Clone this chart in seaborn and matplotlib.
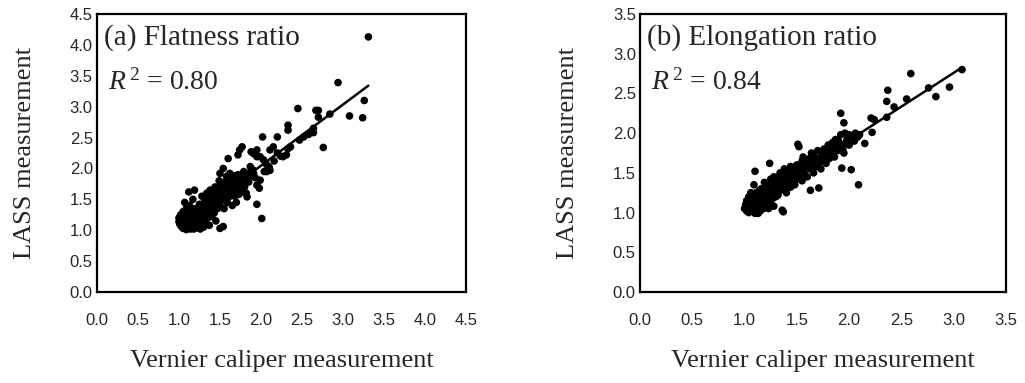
import matplotlib
matplotlib.use("Agg")
import matplotlib.pyplot as plt
import seaborn as sns
import pandas as pd

# ---------------- data ----------------
flat_x = [1.00,1.00,1.01,1.02,1.02,1.03,1.04,1.04,1.05,1.05,1.06,1.06,1.07,1.07,1.08,1.08,1.09,1.09,1.10,1.10,
          1.11,1.11,1.12,1.12,1.13,1.13,1.14,1.14,1.15,1.15,1.16,1.16,1.17,1.17,1.18,1.18,1.19,1.19,1.20,1.20,
          1.21,1.22,1.22,1.23,1.24,1.25,1.25,1.26,1.27,1.28,1.28,1.29,1.30,1.30,
          1.31,1.32,1.33,1.34,1.35,1.35,1.36,1.37,1.38,1.38,1.39,1.40,1.40,1.41,1.42,1.43,1.43,1.44,1.45,1.45,
          1.46,1.47,1.48,1.48,1.49,1.50,1.50,1.50,1.51,1.52,1.53,1.54,1.54,1.55,1.55,1.56,1.57,1.58,1.58,1.59,
          1.60,1.60,
          1.61,1.62,1.62,1.63,1.64,1.65,1.65,1.66,1.67,1.68,1.68,1.69,1.70,1.70,1.71,1.72,1.72,1.73,1.74,1.74,
          1.75,1.76,1.77,1.77,1.78,1.79,1.80,1.81,1.82,1.83,1.83,1.85,1.87,1.88,1.88,1.90,1.91,1.91,
          1.93,1.95,1.95,1.95,1.95,1.98,1.99,1.99,2.01,2.02,2.03,2.04,2.07,2.07,2.10,2.11,2.11,2.15,2.16,2.20,
          2.20,2.24,2.27,2.31,2.33,2.33,2.33,2.36,
          2.45,2.47,2.52,2.58,2.64,2.64,2.67,2.70,2.70,2.76,2.84,2.94,3.08,3.24,3.26,3.31]
flat_y = [1.14,1.20,1.10,1.25,1.16,1.06,1.20,1.12,1.30,1.03,1.18,1.10,1.24,1.45,1.08,1.15,1.35,1.01,1.22,1.12,
          1.05,1.28,1.18,1.62,1.10,1.40,1.25,1.02,1.15,1.32,1.08,1.20,1.50,1.12,1.02,1.26,1.18,1.65,1.08,1.35,
          1.22,1.04,1.14,1.30,1.20,1.10,1.42,1.02,1.25,1.15,1.55,1.35,1.05,1.22,
          1.45,1.12,1.30,1.60,1.20,1.40,1.52,1.08,1.32,1.65,1.45,1.22,1.55,1.38,1.62,1.28,1.48,1.70,1.40,1.15,
          1.58,1.35,1.65,1.50,1.80,1.42,1.92,1.03,1.60,1.72,1.50,1.06,2.00,1.62,1.35,1.78,1.55,1.87,1.68,1.45,
          1.62,2.16,
          1.75,1.92,1.55,1.68,1.82,1.40,1.62,1.75,1.88,1.55,1.70,1.80,1.45,1.65,1.78,1.90,2.22,1.58,1.72,2.30,
          1.68,1.85,2.35,1.62,1.75,1.95,1.70,1.82,1.60,1.54,1.92,1.78,2.03,2.27,1.88,1.98,1.92,2.24,
          1.85,1.42,1.73,2.30,2.19,1.68,2.19,1.81,1.19,2.51,2.14,1.95,2.06,1.95,2.02,1.97,2.30,2.35,2.12,2.51,
          2.25,2.20,2.19,2.22,2.32,2.62,2.70,2.35,
          2.97,2.46,2.51,2.55,2.65,2.58,2.94,2.94,2.83,2.34,2.88,3.39,2.85,2.82,3.10,4.13]

elon_x = [1.00,1.01,1.02,1.02,1.03,1.04,1.04,1.05,1.05,1.06,1.06,1.07,1.07,1.08,1.08,1.09,1.09,1.10,1.10,1.10,
          1.11,1.11,1.12,1.12,1.13,1.13,1.14,1.14,1.15,1.15,1.16,1.16,1.17,1.18,1.18,1.19,1.19,1.20,1.20,1.21,
          1.22,1.22,1.23,1.23,1.24,1.24,1.25,1.25,1.26,1.27,1.27,1.28,1.28,1.29,1.30,1.30,
          1.31,1.32,1.32,1.33,1.34,1.34,1.35,1.36,1.36,1.37,1.37,1.38,1.38,1.39,1.40,1.40,1.41,1.42,1.43,1.44,
          1.44,1.45,1.46,1.47,1.48,1.48,1.49,1.50,1.50,1.51,1.51,1.52,1.52,1.53,1.54,1.55,1.55,1.56,1.57,1.58,
          1.58,1.59,1.60,
          1.61,1.62,1.63,1.63,1.64,1.65,1.66,1.67,1.68,1.69,1.70,1.71,1.71,1.72,1.73,1.74,1.75,1.76,1.77,1.78,
          1.79,1.80,1.81,1.82,1.83,1.84,1.85,1.86,1.87,1.88,1.89,1.90,
          1.91,1.92,1.92,1.93,1.94,1.95,1.95,1.96,1.97,1.98,2.00,2.00,2.02,2.03,2.05,2.06,2.08,2.09,2.10,2.15,
          2.21,2.22,2.24,
          2.36,2.36,2.37,2.43,2.55,2.59,2.76,2.83,2.96,3.08]
elon_y = [1.05,1.10,1.02,1.15,1.08,1.20,1.00,1.12,1.05,1.18,1.25,1.08,1.15,1.02,1.22,1.10,1.35,0.99,1.52,1.18,
          1.05,1.25,1.12,1.20,0.99,1.08,1.15,1.28,1.02,1.20,1.10,1.30,1.18,1.05,1.25,1.12,1.38,1.20,1.08,1.28,
          1.15,1.35,1.05,1.22,1.62,1.30,1.12,1.42,1.25,1.18,1.35,1.08,1.45,1.28,1.20,1.38,
          1.30,1.45,1.22,1.35,1.50,1.28,1.40,1.03,1.32,1.01,1.45,1.38,1.55,1.30,1.42,1.25,1.50,1.36,1.45,1.58,
          1.32,1.48,1.40,1.55,1.45,1.35,1.52,1.42,1.60,1.86,1.50,1.83,1.45,1.58,1.52,1.40,1.65,1.70,1.55,1.48,
          1.62,1.58,1.45,
          1.60,1.68,1.28,1.55,1.75,1.62,1.50,1.70,1.58,1.65,1.78,1.31,1.62,1.68,1.55,1.72,1.65,1.80,1.70,1.62,
          1.75,1.85,1.68,1.78,1.72,1.88,1.80,1.70,1.92,1.82,1.78,1.90,
          1.85,2.25,1.98,1.56,1.80,2.13,1.75,2.00,1.88,1.92,1.85,1.98,1.54,1.95,1.90,2.00,1.95,1.35,1.98,1.87,
          2.19,2.01,2.17,
          2.20,2.40,2.54,2.33,2.43,2.75,2.57,2.46,2.58,2.80]

panel_titles = ["(a) Flatness ratio", "(b) Elongation ratio"]
r2_values = ["0.80", "0.84"]
xticks_a = [0.0, 0.5, 1.0, 1.5, 2.0, 2.5, 3.0, 3.5, 4.0, 4.5]
yticks_a = [0.0, 0.5, 1.0, 1.5, 2.0, 2.5, 3.0, 3.5, 4.0, 4.5]
xticks_b = [0.0, 0.5, 1.0, 1.5, 2.0, 2.5, 3.0, 3.5]
yticks_b = [0.0, 0.5, 1.0, 1.5, 2.0, 2.5, 3.0, 3.5]
x_label = "Vernier caliper measurement"
y_label = "LASS measurement"

# ---------------- style ----------------
sns.set_style("white")
plt.rcParams["font.family"] = ["Liberation Serif", "DejaVu Serif"]
plt.rcParams["mathtext.fontset"] = "custom"
plt.rcParams["mathtext.rm"] = "Liberation Serif"
plt.rcParams["mathtext.it"] = "Liberation Serif:italic"

fig = plt.figure(figsize=(10.25, 3.83), dpi=100)
ax_a = fig.add_axes([0.0946, 0.2376, 0.360, 0.7258])
ax_b = fig.add_axes([0.6244, 0.2376, 0.357, 0.7258])

panels = [
    (ax_a, flat_x, flat_y, xticks_a, yticks_a, panel_titles[0], r2_values[0]),
    (ax_b, elon_x, elon_y, xticks_b, yticks_b, panel_titles[1], r2_values[1]),
]

for ax, xs, ys, xt, yt, title, r2 in panels:
    df = pd.DataFrame({"x": xs, "y": ys})
    sns.regplot(data=df, x="x", y="y", ax=ax, ci=None, truncate=True,
                scatter_kws=dict(s=30, color="black", edgecolor="none", alpha=1),
                line_kws=dict(color="black", lw=1.8))
    ax.set_xlim(xt[0], xt[-1])
    ax.set_ylim(yt[0], yt[-1])
    ax.set_xticks(xt)
    ax.set_yticks(yt)
    ax.set_xticklabels([f"{v:.1f}" for v in xt], fontfamily="Liberation Sans", fontsize=12)
    ax.set_yticklabels([f"{v:.1f}" for v in yt], fontfamily="Liberation Sans", fontsize=12)
    ax.tick_params(direction="in", length=3, width=1, color="black")
    ax.tick_params(axis="x", pad=15)
    ax.tick_params(axis="y", pad=3)
    for sp in ax.spines.values():
        sp.set_visible(True)
        sp.set_color("black")
        sp.set_linewidth(1.6)
    ax.set_xlabel(x_label, fontsize=19, labelpad=16)
    ax.set_ylabel(y_label, fontsize=19, labelpad=24)
    ax.text(0.02, 0.915, title, transform=ax.transAxes, fontsize=21,
            ha="left", va="center")
    ax.text(0.03, 0.755, r"$R^{\,2}$ = " + r2, transform=ax.transAxes, fontsize=20,
            ha="left", va="center")

fig.savefig("out.png", dpi=100, facecolor="white")
